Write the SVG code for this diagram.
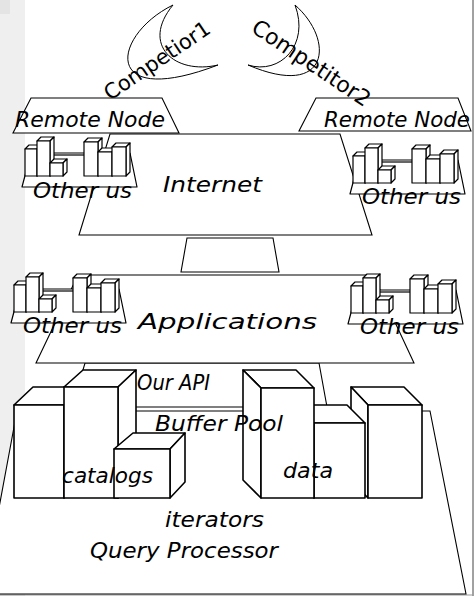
<svg xmlns="http://www.w3.org/2000/svg" xmlns:xlink="http://www.w3.org/1999/xlink" width="476" height="596" viewBox="0 0 476 596">
  <style>
    .ln { fill: #fff; stroke: #000; stroke-width: 1.1; stroke-linejoin: miter; }
    .cube { fill: #fff; stroke: #000; stroke-width: 1.6; stroke-linejoin: round; }
    .ico { fill: #fff; stroke: #000; stroke-width: 1.2; stroke-linejoin: round; }
    .moon { fill: none; stroke: #000; stroke-width: 1; }
    .t { font-family: "Comic Sans MS", "DejaVu Sans", sans-serif; font-style: italic; font-size: 22px; fill: #000; }
    .c { font-family: "Comic Sans MS", "DejaVu Sans", sans-serif; font-size: 22px; fill: #000; }
  </style>
  <defs>
    <!-- building cluster on a platform; origin = platform bottom-left -->
    <g id="others">
      <polygon class="ico" points="0,0 115,0 108,-34 9,-34"/>
      <line class="ico" x1="32" y1="-32" x2="64" y2="-32"/>
      <!-- left cluster -->
      <polygon class="ico" points="3,-38 7,-42 19,-42 15,-38"/>
      <polygon class="ico" points="15,-38 19,-42 19,-15 15,-11"/>
      <rect class="ico" x="3" y="-38" width="12" height="27"/>
      <polygon class="ico" points="15,-46 19,-50 32,-50 28,-46"/>
      <polygon class="ico" points="28,-46 32,-50 32,-15 28,-11"/>
      <rect class="ico" x="15" y="-46" width="13" height="35"/>
      <polygon class="ico" points="28,-24 32,-28 45,-28 41,-24"/>
      <polygon class="ico" points="41,-24 45,-28 45,-15 41,-11"/>
      <rect class="ico" x="28" y="-24" width="13" height="13"/>
      <!-- right cluster -->
      <polygon class="ico" points="62,-45 66,-49 80,-49 76,-45"/>
      <polygon class="ico" points="76,-45 80,-49 80,-15 76,-11"/>
      <rect class="ico" x="62" y="-45" width="14" height="34"/>
      <polygon class="ico" points="76,-35 80,-39 94,-39 90,-35"/>
      <polygon class="ico" points="90,-35 94,-39 94,-15 90,-11"/>
      <rect class="ico" x="76" y="-35" width="14" height="24"/>
      <polygon class="ico" points="90,-40 94,-44 108,-44 104,-40"/>
      <polygon class="ico" points="104,-40 108,-44 108,-15 104,-11"/>
      <rect class="ico" x="90" y="-40" width="14" height="29"/>
    </g>
    <path id="arc1" d="M110,101 L230,20"/>
    <path id="arc2" d="M250,31 L386,122"/>
  </defs>

  <rect width="476" height="596" fill="#fff"/>
  <!-- slide margin -->
  <rect x="0" y="0" width="25" height="596" fill="#efefef"/>
  <rect x="0" y="0" width="10" height="14" fill="#e4e4e4"/>
  <line x1="473" y1="0" x2="473" y2="596" stroke="#444" stroke-width="1"/>
  <line x1="0" y1="595" x2="473" y2="595" stroke="#999" stroke-width="1"/>

  <!-- layers -->
  <g id="query-processor">
    <polygon class="ln" points="17,411 430,411 466,594 -17,594"/>
  </g>
  <g id="our-api">
    <polygon class="ln" points="85,363 319,363 327,407 72,407"/>
  </g>
  <g id="link">
    <polygon class="ln" points="187,238 273,238 279,272 181,272"/>
  </g>
  <g id="internet">
    <polygon class="ln" points="110,134 340,134 372,235 79,235"/>
  </g>
  <g id="applications">
    <polygon class="ln" points="78,275 373,275 414,363 36,363"/>
  </g>
  <g id="remote-node-1">
    <polygon class="ln" points="31,98 162,98 179,133 13,133"/>
  </g>
  <g id="remote-node-2">
    <polygon class="ln" points="316,98 458,98 471,131 299,131"/>
  </g>

  <!-- competitors -->
  <g id="competitor-1">
    <path class="moon" d="M173,5 C112,35 100,110 218,65 C175,75 140,45 173,5 Z"/>
  </g>
  <g id="competitor-2">
    <path class="moon" d="M295,5 C335,40 330,100 248,65 C280,75 310,45 295,5 Z"/>
  </g>

  <!-- other users -->
  <g id="others-1"><use xlink:href="#others" x="22" y="187"/></g>
  <g id="others-2"><use xlink:href="#others" x="350" y="194"/></g>
  <g id="others-3"><use xlink:href="#others" x="11" y="323"/></g>
  <g id="others-4"><use xlink:href="#others" x="348" y="324"/></g>

  <!-- storage cubes -->
  <g id="cube-1">
    <polygon class="cube" points="14,405 33,387 83,387 64,405"/>
    <polygon class="cube" points="64,405 83,387 83,480 64,498"/>
    <rect class="cube" x="14" y="405" width="50" height="93"/>
  </g>
  <g id="cube-2">
    <polygon class="cube" points="64,387 83,370 136,370 118,387"/>
    <polygon class="cube" points="118,387 136,370 136,480 118,498"/>
    <rect class="cube" x="64" y="387" width="54" height="111"/>
  </g>
  <g id="catalogs">
    <polygon class="cube" points="114,449 133,433 185,433 170,449"/>
    <polygon class="cube" points="170,449 185,433 185,482 170,498"/>
    <rect class="cube" x="114" y="449" width="56" height="49"/>
  </g>
  <g id="cube-6">
    <polygon class="cube" points="351,387 404,387 422,405 368,405"/>
    <polygon class="cube" points="351,387 368,405 368,498 351,480"/>
    <rect class="cube" x="368" y="405" width="54" height="93"/>
  </g>
  <g id="data">
    <polygon class="cube" points="296,405 347,405 365,423 314,423"/>
    <polygon class="cube" points="296,405 314,423 314,498 296,480"/>
    <rect class="cube" x="314" y="423" width="51" height="75"/>
  </g>
  <g id="cube-4">
    <polygon class="cube" points="243,370 296,370 314,388 261,388"/>
    <polygon class="cube" points="243,370 261,388 261,498 243,480"/>
    <rect class="cube" x="261" y="388" width="53" height="110"/>
  </g>

  <!-- labels -->
  <g id="labels">
    <text class="c"><textPath xlink:href="#arc1" font-size="21">Competior1</textPath></text>
    <text class="c"><textPath xlink:href="#arc2">Competitor2</textPath></text>
    <text class="t" x="15" y="127" textLength="150" lengthAdjust="spacingAndGlyphs">Remote Node</text>
    <text class="t" x="324" y="127" textLength="146" lengthAdjust="spacingAndGlyphs">Remote Node</text>
    <text class="t" x="163" y="192" textLength="99" lengthAdjust="spacingAndGlyphs">Internet</text>
    <text class="t" x="33" y="198" textLength="99" lengthAdjust="spacingAndGlyphs">Other us</text>
    <text class="t" x="362" y="204" textLength="99" lengthAdjust="spacingAndGlyphs">Other us</text>
    <text class="t" x="23" y="333" textLength="99" lengthAdjust="spacingAndGlyphs">Other us</text>
    <text class="t" x="360" y="334" textLength="99" lengthAdjust="spacingAndGlyphs">Other us</text>
    <text class="t" x="138" y="329" font-size="29" textLength="179" lengthAdjust="spacingAndGlyphs">Applications</text>
    <text class="t" x="137" y="390" textLength="73" lengthAdjust="spacingAndGlyphs">Our API</text>
    <text class="t" x="155" y="431" textLength="128" lengthAdjust="spacingAndGlyphs">Buffer Pool</text>
    <text class="t" x="62" y="483" textLength="91" lengthAdjust="spacingAndGlyphs">catalogs</text>
    <text class="t" x="283" y="478" textLength="50" lengthAdjust="spacingAndGlyphs">data</text>
    <text class="t" x="165" y="527" textLength="99" lengthAdjust="spacingAndGlyphs">iterators</text>
    <text class="t" x="90" y="558" textLength="188" lengthAdjust="spacingAndGlyphs">Query Processor</text>
  </g>
</svg>
